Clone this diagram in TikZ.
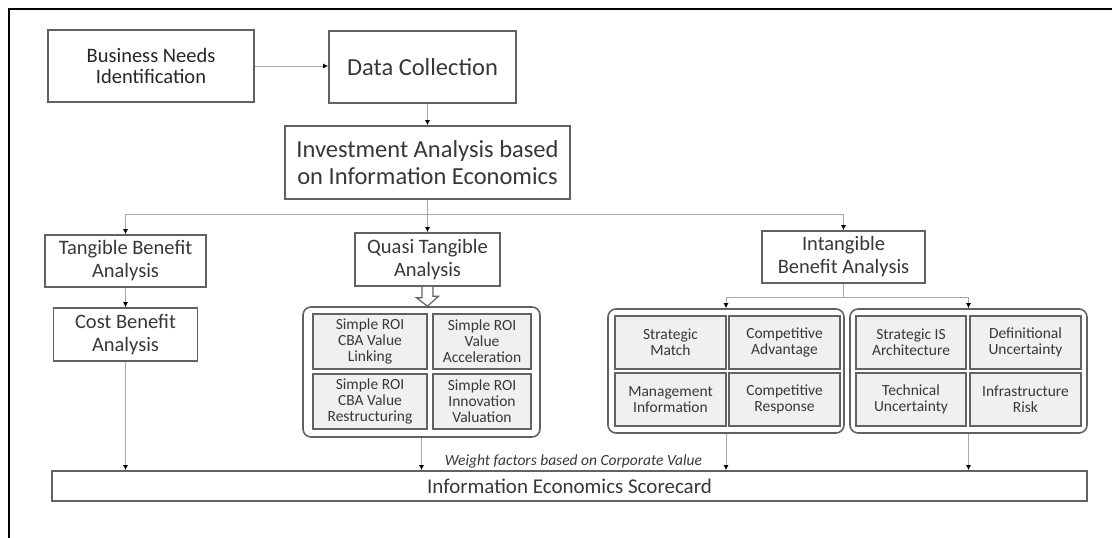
\documentclass[tikz,border=0pt]{standalone}
\usepackage{fontspec}
\setmainfont{Carlito}
\usetikzlibrary{arrows.meta}
\definecolor{txt}{HTML}{383838}
\definecolor{txtd}{HTML}{262626}
\definecolor{bord}{HTML}{626262}
\definecolor{connc}{HTML}{A8A8A8}
\definecolor{cellfill}{HTML}{F0F0F0}
\begin{document}
\begin{tikzpicture}[x=1pt,y=-1pt,
  box/.style={draw=bord, line width=1.6pt, fill=white, text=txt, align=center, inner sep=0pt},
  cell/.style={draw=bord, line width=2pt, fill=cellfill, text=txt, align=center, inner sep=0pt, font=\fontsize{15.5}{16}\selectfont},
  grp/.style={draw=bord, line width=1.6pt, rounded corners=8pt, fill=white, inner sep=0pt},
  conn/.style={draw=connc, line width=1pt, -{Latex[length=5pt,width=5pt,color=black]}},
  plain/.style={draw=connc, line width=1pt},
  hollow/.style={draw=bord, line width=1.2pt, fill=white, line join=miter},
  midf/.style={font=\fontsize{20.5}{23}\selectfont},
  bigf/.style={font=\fontsize{24.5}{27}\selectfont}]
\useasboundingbox (0,0) rectangle (1112,538);
\fill[white] (0,0) rectangle (1112,538);
\draw[black, line width=2pt] (9,538) -- (9,9) -- (1112,9);

% top row
\node[box, minimum width=206, minimum height=72, text=txtd, font=\fontsize{20.5}{21}\selectfont] (bni) at (151,66) {Business Needs\\Identification};
\node[box, minimum width=187, minimum height=72, bigf] (dc) at (422.5,67) {Data Collection};
\node[box, minimum width=285, minimum height=73, bigf] (ia) at (427.5,162.5) {Investment Analysis based\\on Information Economics};

% second row
\node[box, minimum width=161, minimum height=52, midf] (tba) at (125.5,261) {Tangible Benefit\\Analysis};
\node[box, minimum width=145, minimum height=53, midf] (qta) at (427.5,259.5) {Quasi Tangible\\Analysis};
\node[box, minimum width=163, minimum height=52, midf] (intg) at (843.5,257) {Intangible\\Benefit Analysis};
\node[box, minimum width=144, minimum height=53, midf] (cba) at (125.5,334.5) {Cost Benefit\\Analysis};

% groups
\node[grp, minimum width=237, minimum height=130] (g1) at (421.5,372) {};
\node[grp, minimum width=236, minimum height=124] (g2) at (726,371) {};
\node[grp, minimum width=237, minimum height=124] (g3) at (968.5,371) {};

\node[cell, minimum width=114, minimum height=55] (c11) at (370,341.5) {Simple ROI\\CBA Value\\Linking};
\node[cell, minimum width=98, minimum height=55] (c12) at (482,341.5) {Simple ROI\\Value\\Acceleration};
\node[cell, minimum width=114, minimum height=55] (c13) at (370,401.5) {Simple ROI\\CBA Value\\Restructuring};
\node[cell, minimum width=98, minimum height=55] (c14) at (482,401.5) {Simple ROI\\Innovation\\Valuation};

\node[cell, minimum width=111, minimum height=53] (c21) at (670.5,342.5) {Strategic\\Match};
\node[cell, minimum width=111, minimum height=53] (c22) at (784.5,342.5) {Competitive\\Advantage};
\node[cell, minimum width=111, minimum height=53] (c23) at (670.5,399.5) {Management\\Information};
\node[cell, minimum width=111, minimum height=53] (c24) at (784.5,399.5) {Competitive\\Response};

\node[cell, minimum width=110, minimum height=53] (c31) at (911,342.5) {Strategic IS\\Architecture};
\node[cell, minimum width=111, minimum height=53] (c32) at (1025.5,342.5) {Definitional\\Uncertainty};
\node[cell, minimum width=110, minimum height=53] (c33) at (911,399.5) {Technical\\Uncertainty};
\node[cell, minimum width=111, minimum height=53] (c34) at (1025.5,399.5) {Infrastructure\\Risk};

% scorecard
\node[box, minimum width=1035, minimum height=30, font=\fontsize{21}{24}\selectfont] (sc) at (569.5,486) {Information Economics Scorecard};
\node[text=txt, inner sep=0pt, font=\itshape\fontsize{15.5}{17}\selectfont] (wt) at (573.5,461) {Weight factors based on Corporate Value};

% connectors
\coordinate (split) at (427.5,214);
\coordinate (isplit) at (843.5,297);
\draw[conn] (bni.east) -- (dc.west |- bni.east);
\draw[conn] (dc.south -| ia.north) -- (ia.north);
\draw[conn] (ia.south -| qta.north) -- (qta.north);
\draw[conn] (split) -| (tba.north);
\draw[conn] (split) -| (intg.north);
\draw[conn] (tba.south) -- (cba.north);
\draw[plain] (intg.south) -- (isplit);
\draw[conn] (isplit) -| (g2.north);
\draw[conn] (isplit) -| (g3.north);
\draw[conn] (cba.south) -- (cba.south |- sc.north);
\draw[conn] (g1.south) -- (g1.south |- sc.north);
\draw[conn] (g2.south) -- (g2.south |- sc.north);
\draw[conn] (g3.south) -- (g3.south |- sc.north);

% hollow block arrow
\draw[hollow] ([xshift=-5.5pt]qta.south) -- ++(0,11) -- ++(-5.5,0) -- (qta.south |- g1.north) -- ++(11,-10) -- ++(-5.5,0) -- ([xshift=5.5pt]qta.south);
\end{tikzpicture}
\end{document}
